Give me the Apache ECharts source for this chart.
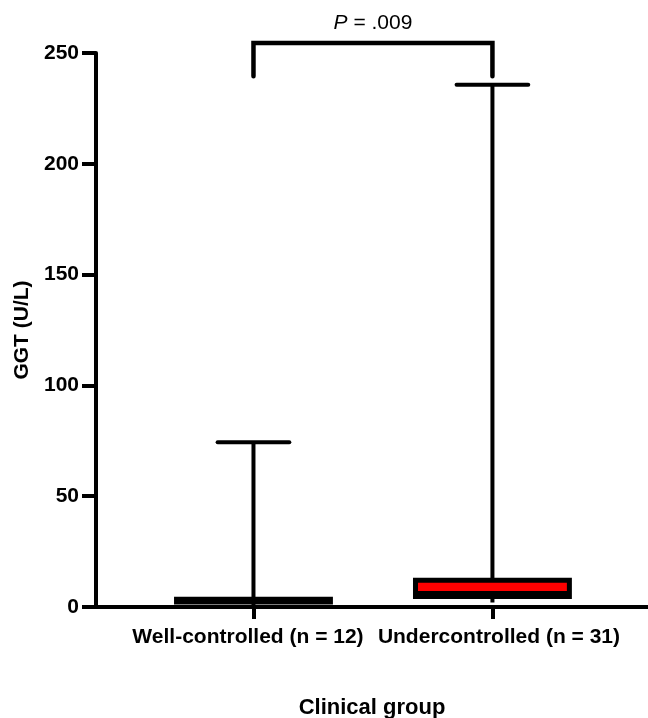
<!DOCTYPE html>
<html>
<head>
<meta charset="utf-8">
<script src="https://cdn.jsdelivr.net/npm/echarts@6/dist/echarts.min.js"></script>
<style>
  html, body { margin: 0; padding: 0; background: #fff; }
  #chart { width: 648px; height: 718px; }
</style>
</head>
<body>
<div id="chart"></div>
<script>
// ---- data ----
const categories = ['Well-controlled (n = 12)', 'Undercontrolled (n = 31)'];
const whiskerMin = [0.5, 2];
const q1Values = [2.3, 4.7];
const medianValues = [3, 6.1];
const q3Values = [3.5, 12.1];
const whiskerMax = [74.3, 235.7];
const yTicks = [0, 50, 100, 150, 200, 250];
const pValueText = '= .009';
const bracketTop = 254.5;
const bracketLegBottom = 239.5;

// ---- styling ----
const boxFill = ['#000000', '#ff0000'];
const FONT = '"Liberation Sans", Arial, Helvetica, sans-serif';

const boxData = categories.map((c, i) => [i + 1, whiskerMin[i], q1Values[i], medianValues[i], q3Values[i], whiskerMax[i]]);
const bracketData = [[1, 2, bracketTop, bracketLegBottom]];

const chart = echarts.init(document.getElementById('chart'), null, { renderer: 'canvas' });

function renderBox(params, api) {
  const x = api.value(0);
  const pMin = api.coord([x, api.value(1)]);
  const pQ1 = api.coord([x, api.value(2)]);
  const pMed = api.coord([x, api.value(3)]);
  const pQ3 = api.coord([x, api.value(4)]);
  const pMax = api.coord([x, api.value(5)]);
  const halfBox = api.size([0.644, 0])[0] / 2;
  const halfCap = api.size([0.30, 0])[0] / 2;
  const fill = boxFill[params.dataIndex];
  const lineStyle = { stroke: '#000', lineWidth: 4, lineCap: 'round' };
  return {
    type: 'group',
    children: [
      { type: 'line', shape: { x1: pMin[0], y1: pMin[1], x2: pMax[0], y2: pMax[1] }, style: { stroke: '#000', lineWidth: 4 } },
      { type: 'line', shape: { x1: pMax[0] - halfCap, y1: pMax[1], x2: pMax[0] + halfCap, y2: pMax[1] }, style: lineStyle },
      { type: 'rect', shape: { x: pQ3[0] - halfBox, y: pQ3[1], width: halfBox * 2, height: pQ1[1] - pQ3[1] },
        style: { fill: fill, stroke: '#000', lineWidth: 5 } },
      { type: 'line', shape: { x1: pMed[0] - halfBox, y1: pMed[1], x2: pMed[0] + halfBox, y2: pMed[1] }, style: { stroke: '#000', lineWidth: 5 } }
    ]
  };
}

function renderBracket(params, api) {
  const a = api.coord([api.value(0), api.value(2)]);
  const b = api.coord([api.value(1), api.value(2)]);
  const aLow = api.coord([api.value(0), api.value(3)]);
  const bLow = api.coord([api.value(1), api.value(3)]);
  return {
    type: 'group',
    children: [
      { type: 'polyline', shape: { points: [[aLow[0], aLow[1]], [a[0], a[1]], [b[0], b[1]], [bLow[0], bLow[1]]] },
        style: { stroke: '#000', lineWidth: 4.5, fill: null, lineJoin: 'miter', lineCap: 'round' } },
      { type: 'text', x: (a[0] + b[0]) / 2, y: a[1] - 9,
        style: { text: '{i|P} ' + pValueText, rich: { i: { fontStyle: 'italic', fontSize: 21, fontFamily: FONT, fill: '#000' } },
          fontSize: 21, fontFamily: FONT, fill: '#000', align: 'center', verticalAlign: 'bottom' } }
    ]
  };
}

chart.setOption({
  animation: false,
  backgroundColor: '#fff',
  grid: { left: 96, right: 0, top: 53, bottom: 111, containLabel: false, outerBoundsMode: 'none' },
  xAxis: {
    type: 'value',
    min: 0.341,
    max: 2.651,
    splitLine: { show: false },
    axisLine: { show: true, onZero: false, lineStyle: { color: '#000', width: 4 } },
    axisTick: { show: true, customValues: [1, 2], length: 12, lineStyle: { color: '#000', width: 4 } },
    axisLabel: {
      customValues: [1, 2],
      margin: 20,
      formatter: v => {
        const i = Math.round(v) - 1;
        return (i === 0 ? '{a|' : '{b|') + categories[i] + '}';
      },
      rich: {
        a: { fontFamily: FONT, fontWeight: 'bold', fontSize: 21, color: '#000', padding: [0, 11, 0, 0] },
        b: { fontFamily: FONT, fontWeight: 'bold', fontSize: 21, color: '#000', padding: [0, 0, 0, 13] }
      }
    },
    name: 'Clinical group',
    nameLocation: 'middle',
    nameGap: 90,
    nameTextStyle: { fontFamily: FONT, fontWeight: 'bold', fontSize: 22, color: '#000' }
  },
  yAxis: {
    type: 'value',
    min: yTicks[0],
    max: yTicks[yTicks.length - 1],
    interval: yTicks[1] - yTicks[0],
    splitLine: { show: false },
    axisLine: { show: true, lineStyle: { color: '#000', width: 4 } },
    axisTick: { show: true, length: 14, lineStyle: { color: '#000', width: 4 } },
    axisLabel: { margin: 17, fontFamily: FONT, fontWeight: 'bold', fontSize: 21, color: '#000' },
    name: 'GGT (U/L)',
    nameLocation: 'middle',
    nameGap: 51,
    nameTextStyle: { fontFamily: FONT, fontWeight: 'bold', fontSize: 21, color: '#000' }
  },
  series: [
    { type: 'custom', name: 'box', renderItem: renderBox, data: boxData, clip: false, z: 1,
      encode: { x: 0, y: [1, 2, 3, 4, 5] } },
    { type: 'custom', name: 'bracket', renderItem: renderBracket, data: bracketData, clip: false, z: 3,
      encode: { x: [0, 1], y: [2, 3] } }
  ]
});
</script>
</body>
</html>
